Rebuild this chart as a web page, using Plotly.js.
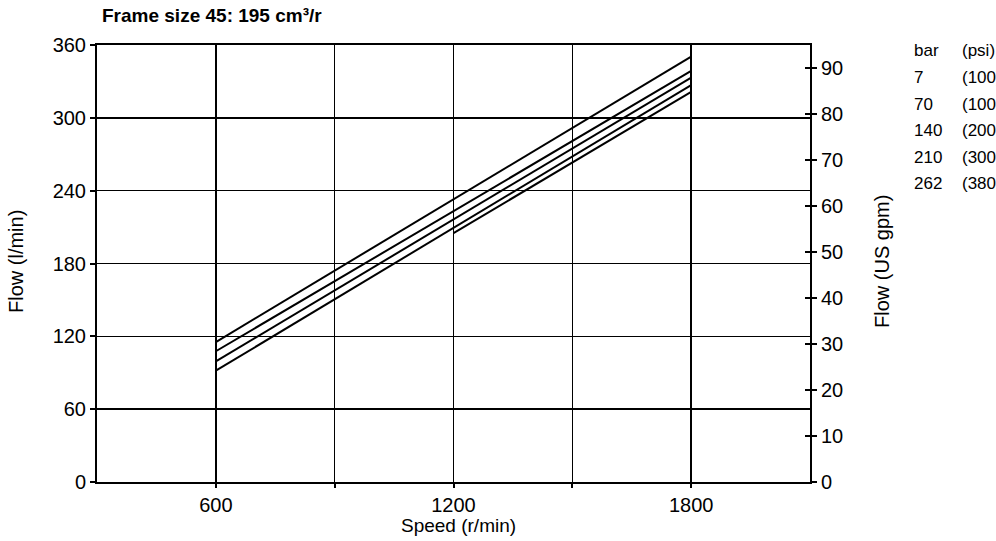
<!DOCTYPE html>
<html>
<head>
<meta charset="utf-8">
<script src="https://cdn.plot.ly/plotly-3.0.1.min.js"></script>
<style>html,body{margin:0;padding:0;background:#fff;}#chart{width:996px;height:541px;}</style>
</head>
<body>
<div id="chart"></div>
<script>
// Data
const speedFull = [600, 1800];
const flow7bar = [115.3, 350.5];
const flow70bar = [107.7, 338.6];
const flow140bar = [99.4, 333.2];
const flow210bar = [91.7, 327.0];
const speed262 = [1200, 1800];
const flow262bar = [205, 321.3];

const xTickVals = [600, 900, 1200, 1500, 1800];
const xTickText = ['600', '', '1200', '', '1800'];
const yTickVals = [0, 60, 120, 180, 240, 300, 360];
const y2TickVals = [0, 10, 20, 30, 40, 50, 60, 70, 80, 90];
const legendBar = ['bar', '7', '70', '140', '210', '262'];
const legendPsi = ['(psi)', '(100)', '(1000)', '(2000)', '(3000)', '(3800)'];

const LPM_PER_GPM = 3.785411784;
const FONT = 'Liberation Sans, Arial, sans-serif';

const lineStyle = {color: '#000', width: 2};
const series = [
  [speedFull, flow7bar],
  [speedFull, flow70bar],
  [speedFull, flow140bar],
  [speedFull, flow210bar],
  [speed262, flow262bar]
];
const traces = series.map(s => ({
  x: s[0], y: s[1], type: 'scatter', mode: 'lines',
  line: lineStyle, showlegend: false, hoverinfo: 'skip'
}));
traces.push({x: [], y: [], yaxis: 'y2', type: 'scatter', mode: 'lines', showlegend: false});
traces.push({x: [], y: [], yaxis: 'y3', type: 'scatter', mode: 'lines', showlegend: false});

const L = 97, R = 810, T = 45, B = 482;
const px2x = p => (p - L) / (R - L);
const py2y = p => (B - p) / (B - T);
const legendRows = [51, 77.5, 104, 130.5, 157, 183];
const annotations = [];
legendRows.forEach((py, i) => {
  annotations.push({xref: 'paper', yref: 'paper', x: px2x(912), y: py2y(py), xanchor: 'left', yanchor: 'middle',
    text: legendBar[i], showarrow: false, font: {family: FONT, size: 17, color: '#000'}});
  annotations.push({xref: 'paper', yref: 'paper', x: px2x(960), y: py2y(py), xanchor: 'left', yanchor: 'middle',
    text: legendPsi[i], showarrow: false, font: {family: FONT, size: 17, color: '#000'}});
});
// axis titles
annotations.push({xref: 'paper', yref: 'paper', x: px2x(16), y: py2y(262), xanchor: 'center', yanchor: 'middle',
  textangle: -90, text: 'Flow (l/min)', showarrow: false, font: {family: FONT, size: 20, color: '#000'}});
annotations.push({xref: 'paper', yref: 'paper', x: px2x(882), y: py2y(262), xanchor: 'center', yanchor: 'middle',
  textangle: -90, text: 'Flow (US gpm)', showarrow: false, font: {family: FONT, size: 20, color: '#000'}});
annotations.push({xref: 'paper', yref: 'paper', x: px2x(458), y: py2y(525), xanchor: 'center', yanchor: 'middle',
  text: 'Speed (r/min)', showarrow: false, font: {family: FONT, size: 19, color: '#000'}});

const layout = {
  width: 996, height: 541,
  margin: {l: L, r: 996 - R, t: T, b: 541 - B},
  paper_bgcolor: '#fff', plot_bgcolor: '#fff',
  font: {family: FONT, color: '#000'},
  title: {text: '<b>Frame size 45: 195 cm³/r</b>', font: {family: FONT, size: 19, color: '#000'},
    xref: 'container', yref: 'container', x: 102 / 996, xanchor: 'left', y: 1 - 15 / 541, yanchor: 'middle'},
  xaxis: {
    range: [300, 2100], tickmode: 'array', tickvals: xTickVals, ticktext: xTickText,
    ticks: 'outside', ticklen: 4, tickwidth: 2, tickcolor: '#000',
    showgrid: true, gridcolor: '#000', gridwidth: 1.6,
    showline: true, linecolor: '#000', linewidth: 2, mirror: true, zeroline: false,
    tickfont: {family: FONT, size: 20, color: '#000'}
  },
  yaxis: {
    range: [0, 360], tickmode: 'array', tickvals: yTickVals,
    ticks: 'outside', ticklen: 5, tickwidth: 2, tickcolor: '#000',
    showgrid: true, gridcolor: '#000', gridwidth: 1.6,
    showline: true, linecolor: '#000', linewidth: 2, zeroline: false,
    tickfont: {family: FONT, size: 20, color: '#000'}
  },
  yaxis2: {
    overlaying: 'y', side: 'right', anchor: 'x',
    range: [0, 360 / LPM_PER_GPM], tickmode: 'array', tickvals: y2TickVals,
    ticks: 'outside', ticklen: 5, tickwidth: 2, tickcolor: '#000',
    showgrid: false, showline: true, linecolor: '#000', linewidth: 2, zeroline: false,
    tickfont: {family: FONT, size: 20, color: '#000'}
  },
  yaxis3: {
    overlaying: 'y', side: 'right', anchor: 'x',
    range: [0, 360 / LPM_PER_GPM], tickmode: 'array', tickvals: y2TickVals,
    ticks: 'inside', ticklen: 5, tickwidth: 2, tickcolor: '#000',
    showticklabels: false, showgrid: false, showline: false, zeroline: false
  },
  annotations: annotations,
  showlegend: false
};

Plotly.newPlot('chart', traces, layout, {staticPlot: true, displayModeBar: false});
</script>
</body>
</html>
